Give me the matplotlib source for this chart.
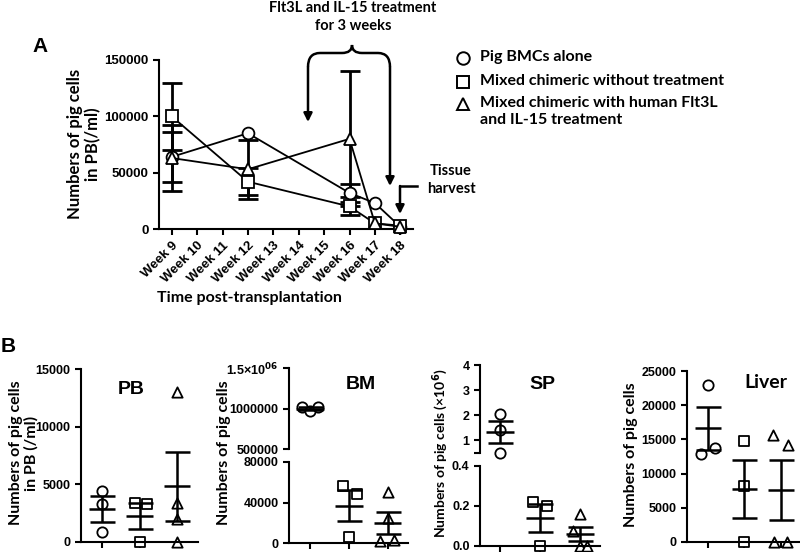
import matplotlib
matplotlib.use("Agg")
import matplotlib.pyplot as plt
from matplotlib.lines import Line2D
from matplotlib.path import Path
from matplotlib.patches import PathPatch, FancyArrowPatch

plt.rcParams['font.family'] = ['Liberation Sans', 'DejaVu Sans']
plt.rcParams['font.weight'] = 'bold'
plt.rcParams['axes.linewidth'] = 1.5
plt.rcParams['xtick.major.width'] = 1.5
plt.rcParams['ytick.major.width'] = 1.5
plt.rcParams['xtick.major.size'] = 4
plt.rcParams['ytick.major.size'] = 4

LABEL_FONT = ['Lato', 'DejaVu Sans']
W, H = 800, 552

# ---- panel A data ----
weeks = [9, 10, 11, 12, 13, 14, 15, 16, 17, 18]
week_labels = ['Week %d' % w for w in weeks]
time_weeks = [9, 12, 16, 17, 18]
bmc_mean = [64000, 85000, 32000, 23000, 2000]
bmc_sem = [22000, 0, 8000, 0, 0]
mixed_mean = [100000, 42000, 20000, 5000, 3000]
mixed_sem = [30000, 12000, 8000, 0, 0]
treated_mean = [63000, 53000, 80000, 5000, 2000]
treated_sem = [29000, 26000, 60000, 0, 0]

legend_labels = ['Pig BMCs alone', 'Mixed chimeric without treatment',
                 'Mixed chimeric with human Flt3L\nand IL-15 treatment']
markers = ['o', 's', '^']

# ---- panel B data (individual animals, mean, SEM) ----
pb_points = [[4400, 3300, 850], [3400, 3300, 0], [13000, 3400, 2000, 0]]
pb_mean = [2850, 2220, 4820]
pb_sem = [1140, 1130, 2970]

bm_points = [[1015000, 970000, 1015000], [56700, 48200, 5900], [50000, 24600, 2000, 3000]]
bm_mean = [1000000, 37000, 19700]
bm_sem = [15000, 15000, 10500]

sp_points = [[2.05, 1.4, 0.5], [0.22, 0.2, 0.0], [0.16, 0.075, 0.0, 0.0]]
sp_mean = [1.33, 0.14, 0.06]
sp_sem = [0.45, 0.07, 0.035]

liver_points = [[23000, 12900, 13800], [14700, 8200, 0], [15700, 14200, 0, 0]]
liver_mean = [16600, 7700, 7600]
liver_sem = [3200, 4250, 4400]

# horizontal offsets of the dots inside each group (layout only)
pb_jit = [[0, 0, 0], [-0.13, 0.19, 0], [0, 0, 0, 0]]
bm_jit = [[-0.2, 0, 0.2], [-0.15, 0.22, 0], [0, 0, -0.2, 0.15]]
sp_jit = [[0, 0, 0], [-0.17, 0.18, 0], [0, -0.18, 0, 0.18]]
liver_jit = [[0, -0.2, 0.2], [0, 0, 0], [-0.22, 0.18, -0.2, 0.15]]


def box(x0, y0, x1, y1):
    return [x0 / W, 1 - y1 / H, (x1 - x0) / W, (y1 - y0) / H]


def fx(x, y):
    return (x / W, 1 - y / H)


fig = plt.figure(figsize=(8, 5.52), dpi=100)

# ================= panel A =================
ax = fig.add_axes(box(159, 60, 413, 229))
for means, sems, m in zip([bmc_mean, mixed_mean, treated_mean],
                          [bmc_sem, mixed_sem, treated_sem], markers):
    ex = [t for t, s in zip(time_weeks, sems) if s > 0]
    ey = [v for v, s in zip(means, sems) if s > 0]
    es = [s for s in sems if s > 0]
    ax.errorbar(ex, ey, yerr=es, fmt='none', ecolor='black',
                elinewidth=2, capsize=7, capthick=2, zorder=2)
    ax.plot(time_weeks, means, color='black', lw=1.3, marker=m, ms=8.5,
            mfc='white', mec='black', mew=1.3, zorder=3, clip_on=False)
ax.set_xlim(8.5, 18.5)
ax.set_ylim(0, 150000)
ax.set_yticks([0, 50000, 100000, 150000])
ax.set_yticklabels(['0', '50000', '100000', '150000'], fontsize=9.5)
ax.set_xticks(weeks)
ax.set_xticklabels(week_labels, rotation=45, ha='right', rotation_mode='anchor', fontsize=9.5)
for s in ['top', 'right']:
    ax.spines[s].set_visible(False)

fig.text(*fx(40, 47), 'A', fontsize=15, fontweight='bold', ha='center', va='center')
fig.text(*fx(84, 144), 'Numbers of pig cells\nin PB(/ml)', rotation=90, ha='center',
         va='center', fontsize=12, family=LABEL_FONT, linespacing=1.1)
fig.text(*fx(249, 298), 'Time post-transplantation', ha='center', va='center',
         fontsize=11.5, family=LABEL_FONT)

# treatment annotation
fig.text(*fx(353, 17), 'Flt3L and IL-15 treatment\nfor 3 weeks', ha='center', va='center',
         fontsize=10.5, family=LABEL_FONT, linespacing=1.35)
verts = [fx(308, 67), fx(308, 53), fx(320, 53), fx(342, 53), fx(352, 53), fx(352, 45),
         fx(352, 53), fx(362, 53), fx(378, 53), fx(390, 53), fx(390, 67)]
codes = [Path.MOVETO, Path.CURVE3, Path.CURVE3, Path.LINETO, Path.CURVE3, Path.CURVE3,
         Path.CURVE3, Path.CURVE3, Path.LINETO, Path.CURVE3, Path.CURVE3]
fig.add_artist(PathPatch(Path(verts, codes), transform=fig.transFigure, fill=False,
                         lw=1.8, color='black'))
for (xa, ya, yb) in [(308, 67, 122), (390, 67, 186)]:
    fig.add_artist(FancyArrowPatch(fx(xa, ya), fx(xa, yb), transform=fig.transFigure,
                                   arrowstyle='-|>,head_length=5,head_width=2.5',
                                   lw=1.8, color='black', mutation_scale=1,
                                   shrinkA=0, shrinkB=0))
fig.add_artist(Line2D([417 / W, 400 / W], [1 - 186 / H, 1 - 186 / H], transform=fig.transFigure,
                      lw=1.8, color='black'))
fig.add_artist(FancyArrowPatch(fx(400, 186), fx(400, 214), transform=fig.transFigure,
                               arrowstyle='-|>,head_length=5,head_width=2.5',
                               lw=1.8, color='black', mutation_scale=1,
                               shrinkA=0, shrinkB=0))
fig.text(*fx(451, 180), 'Tissue\nharvest', ha='center', va='center', fontsize=10.5,
         family=LABEL_FONT, linespacing=1.35)

# legend
for yy, m, lab in zip([58, 82, 104], markers, legend_labels):
    fig.add_artist(Line2D([463 / W], [1 - yy / H], transform=fig.transFigure, marker=m,
                          ms=9, mfc='white', mec='black', mew=1.4, ls='none'))
    fig.text(480 / W, 1 - (yy - 8) / H, lab, ha='left', va='top', fontsize=11.5,
             family=LABEL_FONT, linespacing=1.3)


# ================= panel B =================
def style_b(a, bottom=True):
    for s in ['top', 'right']:
        a.spines[s].set_visible(False)
    if not bottom:
        a.spines['bottom'].set_visible(False)
        a.set_xticks([])
    else:
        a.set_xticks([1, 2, 3])
        a.set_xticklabels([])
    a.tick_params(axis='y', labelsize=9)


def draw_group(a, i, pts, jit, mean, sem):
    x = i + 1
    a.scatter([x + j for j in jit], pts, marker=markers[i], s=55, facecolors='white',
              edgecolors='black', linewidths=1.3, zorder=2, clip_on=False)
    a.hlines(mean, x - 0.35, x + 0.35, color='black', lw=1.8, zorder=3)
    a.errorbar([x], [mean], yerr=[sem], fmt='none', ecolor='black', elinewidth=1.8,
               capsize=9, capthick=1.8, zorder=3)


# PB
ax_pb = fig.add_axes(box(81, 369, 198, 542))
for i in range(3):
    draw_group(ax_pb, i, pb_points[i], pb_jit[i], pb_mean[i], pb_sem[i])
ax_pb.set_xlim(0.44, 3.56)
ax_pb.set_ylim(0, 15000)
ax_pb.set_yticks([0, 5000, 10000, 15000])
style_b(ax_pb)
ax_pb.text(0.43, 0.88, 'PB', transform=ax_pb.transAxes, ha='center', va='center', fontsize=14)

# BM (broken axis)
ax_bm_up = fig.add_axes(box(289, 368, 408, 449))
ax_bm_lo = fig.add_axes(box(289, 462, 408, 543))
draw_group(ax_bm_up, 0, bm_points[0], bm_jit[0], bm_mean[0], bm_sem[0])
for i in [1, 2]:
    draw_group(ax_bm_lo, i, bm_points[i], bm_jit[i], bm_mean[i], bm_sem[i])
for a in (ax_bm_up, ax_bm_lo):
    a.set_xlim(0.46, 3.52)
ax_bm_up.set_ylim(500000, 1500000)
ax_bm_up.set_yticks([500000, 1000000, 1500000])
ax_bm_up.set_yticklabels(['500000', '1000000', r'1.5×10$^{\mathbf{06}}$'])
ax_bm_lo.set_ylim(0, 80000)
ax_bm_lo.set_yticks([0, 40000, 80000])
style_b(ax_bm_up, bottom=False)
style_b(ax_bm_lo)
ax_bm_up.text(0.6, 0.8, 'BM', transform=ax_bm_up.transAxes, ha='center', va='center', fontsize=14)

# SP (broken axis)
ax_sp_up = fig.add_axes(box(480, 365, 600, 453))
ax_sp_lo = fig.add_axes(box(480, 466, 600, 546))
draw_group(ax_sp_up, 0, sp_points[0], sp_jit[0], sp_mean[0], sp_sem[0])
for i in [1, 2]:
    draw_group(ax_sp_lo, i, sp_points[i], sp_jit[i], sp_mean[i], sp_sem[i])
for a in (ax_sp_up, ax_sp_lo):
    a.set_xlim(0.5, 3.5)
ax_sp_up.set_ylim(0.5, 4)
ax_sp_up.set_yticks([0.5, 1, 2, 3, 4])
ax_sp_up.set_yticklabels(['', '1', '2', '3', '4'])
ax_sp_lo.set_ylim(0, 0.4)
ax_sp_lo.set_yticks([0, 0.2, 0.4])
ax_sp_lo.set_yticklabels(['0.0', '0.2', '0.4'])
style_b(ax_sp_up, bottom=False)
style_b(ax_sp_lo)
ax_sp_up.text(0.52, 0.78, 'SP', transform=ax_sp_up.transAxes, ha='center', va='center', fontsize=14)

# Liver
ax_lv = fig.add_axes(box(687, 371, 799, 542))
for i in range(3):
    draw_group(ax_lv, i, liver_points[i], liver_jit[i], liver_mean[i], liver_sem[i])
ax_lv.set_xlim(0.43, 3.49)
ax_lv.set_ylim(0, 25000)
ax_lv.set_yticks([0, 5000, 10000, 15000, 20000, 25000])
style_b(ax_lv)
ax_lv.text(0.7, 0.93, 'Liver', transform=ax_lv.transAxes, ha='center', va='center',
           fontsize=14, family=LABEL_FONT)

fig.text(*fx(8, 347), 'B', fontsize=15, ha='center', va='center')
fig.text(*fx(24, 453), 'Numbers of pig cells\nin PB (/ml)', rotation=90, ha='center',
         va='center', fontsize=11.5, family=LABEL_FONT, linespacing=1.1)
fig.text(*fx(224, 453), 'Numbers of pig cells', rotation=90, ha='center', va='center',
         fontsize=11.5, family=LABEL_FONT)
fig.text(*fx(440, 453), 'Numbers of pig cells (×10$^{6}$)', rotation=90, ha='center',
         va='center', fontsize=10, family=LABEL_FONT)
fig.text(*fx(631, 455), 'Numbers of pig cells', rotation=90, ha='center', va='center',
         fontsize=11.5, family=LABEL_FONT)

fig.savefig('out.png', dpi=100)
